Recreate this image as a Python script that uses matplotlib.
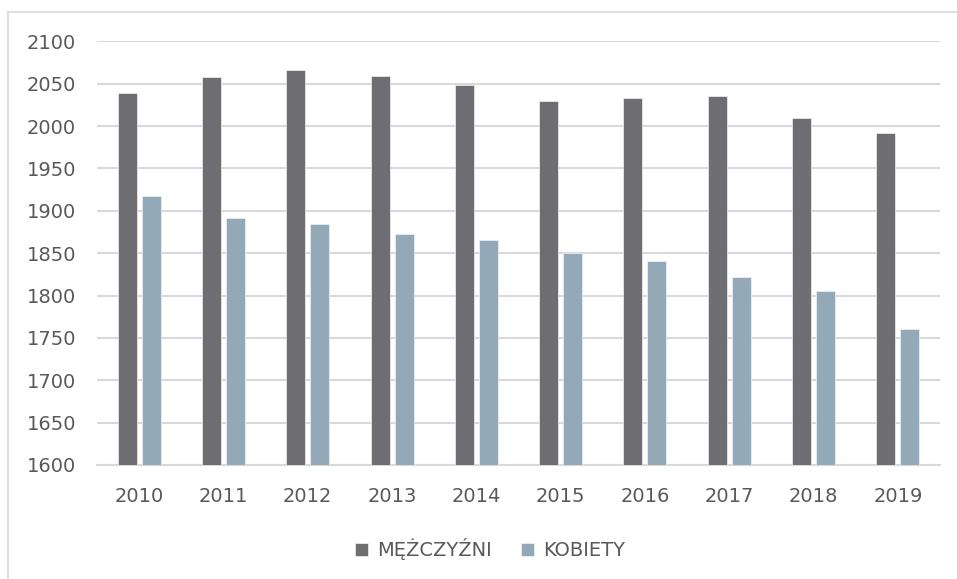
import matplotlib
matplotlib.use("Agg")
import matplotlib.pyplot as plt
import numpy as np
from matplotlib.lines import Line2D

years = ["2010", "2011", "2012", "2013", "2014", "2015", "2016", "2017", "2018", "2019"]
men = [2039, 2058, 2066, 2059, 2048, 2030, 2033, 2035, 2009, 1992]
women = [1918, 1892, 1885, 1873, 1865, 1850, 1841, 1822, 1805, 1760]
yticks = [1600, 1650, 1700, 1750, 1800, 1850, 1900, 1950, 2000, 2050, 2100]
labels = ["MĘŻCZYŹNI", "KOBIETY"]

plt.rcParams['font.family'] = ['DejaVu Sans']
W, H = 957, 579
fig = plt.figure(figsize=(W / 100, H / 100), dpi=100)
fig.patch.set_facecolor("white")

# outer chart border (only top and left visible; cropped at right/bottom)
fig.add_artist(Line2D([8 / W, 8 / W], [0, 1 - 11.5 / H], transform=fig.transFigure,
                      color="#D9D9D9", linewidth=1.2))
fig.add_artist(Line2D([8 / W, 1], [1 - 11.5 / H, 1 - 11.5 / H], transform=fig.transFigure,
                      color="#D9D9D9", linewidth=1.2))

ax = fig.add_axes([97 / W, 1 - 465 / H, 843 / W, (465 - 41.4) / H])
x = np.arange(len(years))
bw = 0.225
gap = 0.06
c_men = "#6E6D72"
c_wom = "#94A9B8"
ax.bar(x - (bw + gap) / 2, [m - 1600 for m in men], bw, bottom=1600, color=c_men,
       edgecolor="#E8E8EA", linewidth=0.6, label=labels[0], zorder=3)
ax.bar(x + (bw + gap) / 2, [w - 1600 for w in women], bw, bottom=1600, color=c_wom,
       edgecolor="#E8EEF2", linewidth=0.6, label=labels[1], zorder=3)

ax.set_xlim(-0.5, len(years) - 0.5)
ax.set_ylim(1600, 2100)
ax.set_yticks(yticks)
ax.set_xticks(x)
ax.set_xticklabels(years)
ax.yaxis.grid(True, color="#D9D9D9", linewidth=1.5, zorder=0)
ax.set_axisbelow(True)
for s in ["top", "right", "left"]:
    ax.spines[s].set_visible(False)
ax.spines["bottom"].set_color("#D9D9D9")
ax.spines["bottom"].set_linewidth(1.5)
ax.tick_params(axis="both", length=0, colors="#595959", labelsize=14)
ax.tick_params(axis="y", pad=15)
ax.tick_params(axis="x", pad=16)

leg = fig.legend(loc="center", bbox_to_anchor=(490 / W, 1 - 549 / H), ncol=2,
                 frameon=False, fontsize=14, handlelength=0.68, handleheight=0.68,
                 handletextpad=0.45, columnspacing=1.5)
for t in leg.get_texts():
    t.set_color("#595959")

fig.savefig("out.png", dpi=100)
